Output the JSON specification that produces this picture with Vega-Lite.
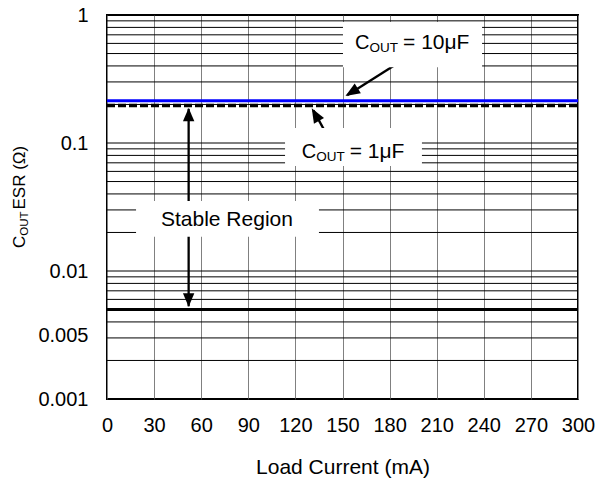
{
  "$schema": "https://vega.github.io/schema/vega-lite/v6.json",
  "width": 471,
  "height": 384,
  "autosize": {"type": "none"},
  "padding": {"left": 107, "top": 15, "right": 26, "bottom": 81},
  "background": "white",
  "config": {
    "view": {"stroke": "black", "strokeWidth": 2},
    "font": "Liberation Sans",
    "text": {"font": "Liberation Sans", "color": "black"}
  },
  "layer": [
    {
      "data": {"values": [
        {"esr": 1}, {"esr": 0.9}, {"esr": 0.8}, {"esr": 0.7}, {"esr": 0.6}, {"esr": 0.5}, {"esr": 0.4}, {"esr": 0.3}, {"esr": 0.2},
        {"esr": 0.1}, {"esr": 0.09}, {"esr": 0.08}, {"esr": 0.07}, {"esr": 0.06}, {"esr": 0.05}, {"esr": 0.04}, {"esr": 0.03}, {"esr": 0.02},
        {"esr": 0.01}, {"esr": 0.009}, {"esr": 0.008}, {"esr": 0.007}, {"esr": 0.006}, {"esr": 0.005}, {"esr": 0.004}, {"esr": 0.003}, {"esr": 0.002},
        {"esr": 0.001}
      ]},
      "mark": {"type": "rule", "color": "black", "strokeWidth": 1},
      "encoding": {
        "y": {
          "field": "esr", "type": "quantitative",
          "scale": {"type": "log", "domain": [0.001, 1]},
          "axis": {
            "title": null, "grid": false, "ticks": false, "domain": false,
            "values": [1, 0.1, 0.01, 0.00316, 0.001],
            "labelExpr": "datum.value > 0.002 && datum.value < 0.004 ? '0.005' : format(datum.value, '.3~f')",
            "labelFont": "Liberation Sans", "labelFontSize": 20, "labelColor": "black",
            "labelPadding": 19, "labelBaseline": "middle"
          }
        }
      }
    },
    {
      "data": {"values": [{"current": 0, "esr": 0.005}, {"current": 300, "esr": 0.005}]},
      "mark": {"type": "line", "color": "black", "strokeWidth": 3},
      "encoding": {
        "x": {
          "field": "current", "type": "quantitative",
          "scale": {"domain": [0, 300], "nice": false},
          "axis": {
            "title": "Load Current (mA)",
            "values": [0, 30, 60, 90, 120, 150, 180, 210, 240, 270, 300],
            "grid": true, "gridColor": "#808080", "gridWidth": 1, "gridOpacity": 1,
            "ticks": false, "domain": false,
            "labelFont": "Liberation Sans", "labelFontSize": 20, "labelColor": "black", "labelPadding": 16,
            "labelFlush": false,
            "titleFont": "Liberation Sans", "titleFontSize": 21, "titleFontWeight": "normal", "titleColor": "black", "titlePadding": 21
          }
        },
        "y": {"field": "esr", "type": "quantitative", "scale": {"type": "log", "domain": [0.001, 1]}}
      }
    },
    {
      "data": {"values": [{"current": 0, "esr": 0.196}, {"current": 300, "esr": 0.196}]},
      "mark": {"type": "line", "color": "black", "strokeWidth": 3.5, "strokeDash": [8, 3]},
      "encoding": {
        "x": {"field": "current", "type": "quantitative"},
        "y": {"field": "esr", "type": "quantitative", "scale": {"type": "log", "domain": [0.001, 1]}}
      }
    },
    {
      "data": {"values": [{"current": 0, "esr": 0.214}, {"current": 300, "esr": 0.214}]},
      "mark": {"type": "line", "color": "#0000ff", "strokeWidth": 3},
      "encoding": {
        "x": {"field": "current", "type": "quantitative"},
        "y": {"field": "esr", "type": "quantitative", "scale": {"type": "log", "domain": [0.001, 1]}}
      }
    },
    {
      "data": {"values": [
        {"current": 52, "esr": 0.185, "current2": 52, "esr2": 0.0053},
        {"current": 183.4, "esr": 0.407, "current2": 153, "esr2": 0.236},
        {"current": 139.5, "esr": 0.119, "current2": 131.5, "esr2": 0.18}
      ]},
      "mark": {"type": "rule", "color": "black", "strokeWidth": 2.3},
      "encoding": {
        "x": {"field": "current", "type": "quantitative"},
        "x2": {"field": "current2"},
        "y": {"field": "esr", "type": "quantitative", "scale": {"type": "log", "domain": [0.001, 1]}},
        "y2": {"field": "esr2"}
      }
    },
    {
      "data": {"values": [
        {"current": 150.3, "current2": 238.9, "esr": 0.88, "esr2": 0.39},
        {"current": 113.4, "current2": 200.6, "esr": 0.131, "esr2": 0.066},
        {"current": 18.5, "current2": 135, "esr": 0.0352, "esr2": 0.0185}
      ]},
      "mark": {"type": "rect", "color": "white", "opacity": 1},
      "encoding": {
        "x": {"field": "current", "type": "quantitative"},
        "x2": {"field": "current2"},
        "y": {"field": "esr", "type": "quantitative", "scale": {"type": "log", "domain": [0.001, 1]}},
        "y2": {"field": "esr2"}
      }
    },
    {
      "data": {"values": [{"current": 52, "esr": 0.188}]},
      "mark": {"type": "point", "shape": "M0,0L0.85,2L-0.85,2Z", "size": 180, "filled": true, "color": "black", "opacity": 1, "angle": 0},
      "encoding": {
        "x": {"field": "current", "type": "quantitative"},
        "y": {"field": "esr", "type": "quantitative", "scale": {"type": "log", "domain": [0.001, 1]}}
      }
    },
    {
      "data": {"values": [{"current": 52, "esr": 0.00526}]},
      "mark": {"type": "point", "shape": "M0,0L0.85,2L-0.85,2Z", "size": 180, "filled": true, "color": "black", "opacity": 1, "angle": 180},
      "encoding": {
        "x": {"field": "current", "type": "quantitative"},
        "y": {"field": "esr", "type": "quantitative", "scale": {"type": "log", "domain": [0.001, 1]}}
      }
    },
    {
      "data": {"values": [{"current": 151.9, "esr": 0.233}]},
      "mark": {"type": "point", "shape": "M0,0L0.8,2L-0.8,2Z", "size": 210, "filled": true, "color": "black", "opacity": 1, "angle": 238},
      "encoding": {
        "x": {"field": "current", "type": "quantitative"},
        "y": {"field": "esr", "type": "quantitative", "scale": {"type": "log", "domain": [0.001, 1]}}
      }
    },
    {
      "data": {"values": [{"current": 130.4, "esr": 0.1867}]},
      "mark": {"type": "point", "shape": "M0,0L0.8,2L-0.8,2Z", "size": 210, "filled": true, "color": "black", "opacity": 1, "angle": 330},
      "encoding": {
        "x": {"field": "current", "type": "quantitative"},
        "y": {"field": "esr", "type": "quantitative", "scale": {"type": "log", "domain": [0.001, 1]}}
      }
    },
    {
      "data": {"values": [
        {"current": 158, "esr": 0.604, "part": "C"},
        {"current": 124, "esr": 0.0855, "part": "C"}
      ]},
      "mark": {"type": "text", "align": "left", "baseline": "middle", "fontSize": 20, "color": "black"},
      "encoding": {
        "x": {"field": "current", "type": "quantitative"},
        "y": {"field": "esr", "type": "quantitative", "scale": {"type": "log", "domain": [0.001, 1]}},
        "text": {"field": "part"}
      }
    },
    {
      "data": {"values": [
        {"current": 158, "esr": 0.604, "part": "OUT"},
        {"current": 124, "esr": 0.0855, "part": "OUT"}
      ]},
      "mark": {"type": "text", "align": "left", "baseline": "middle", "fontSize": 13.5, "dx": 14.5, "dy": 5, "color": "black"},
      "encoding": {
        "x": {"field": "current", "type": "quantitative"},
        "y": {"field": "esr", "type": "quantitative", "scale": {"type": "log", "domain": [0.001, 1]}},
        "text": {"field": "part"}
      }
    },
    {
      "data": {"values": [
        {"current": 158, "esr": 0.604, "part": "= 10μF"},
        {"current": 124, "esr": 0.0855, "part": "= 1μF"}
      ]},
      "mark": {"type": "text", "align": "left", "baseline": "middle", "fontSize": 21, "dx": 48, "color": "black"},
      "encoding": {
        "x": {"field": "current", "type": "quantitative"},
        "y": {"field": "esr", "type": "quantitative", "scale": {"type": "log", "domain": [0.001, 1]}},
        "text": {"field": "part"}
      }
    },
    {
      "data": {"values": [{"current": 76.4, "esr": 0.025, "part": "Stable Region"}]},
      "mark": {"type": "text", "align": "center", "baseline": "middle", "fontSize": 21, "color": "black"},
      "encoding": {
        "x": {"field": "current", "type": "quantitative"},
        "y": {"field": "esr", "type": "quantitative", "scale": {"type": "log", "domain": [0.001, 1]}},
        "text": {"field": "part"}
      }
    },
    {
      "data": {"values": [{"current": -55.4, "esr": 0.01513, "part": "C"}]},
      "mark": {"type": "text", "align": "left", "baseline": "middle", "fontSize": 17, "angle": 270, "color": "black"},
      "encoding": {
        "x": {"field": "current", "type": "quantitative"},
        "y": {"field": "esr", "type": "quantitative", "scale": {"type": "log", "domain": [0.001, 1]}},
        "text": {"field": "part"}
      }
    },
    {
      "data": {"values": [{"current": -55.4, "esr": 0.01513, "part": "OUT"}]},
      "mark": {"type": "text", "align": "left", "baseline": "middle", "fontSize": 11.5, "angle": 270, "dx": 12.3, "dy": 4.5, "color": "black"},
      "encoding": {
        "x": {"field": "current", "type": "quantitative"},
        "y": {"field": "esr", "type": "quantitative", "scale": {"type": "log", "domain": [0.001, 1]}},
        "text": {"field": "part"}
      }
    },
    {
      "data": {"values": [{"current": -55.4, "esr": 0.01513, "part": "ESR (Ω)"}]},
      "mark": {"type": "text", "align": "left", "baseline": "middle", "fontSize": 17, "angle": 270, "dx": 38.5, "color": "black"},
      "encoding": {
        "x": {"field": "current", "type": "quantitative"},
        "y": {"field": "esr", "type": "quantitative", "scale": {"type": "log", "domain": [0.001, 1]}},
        "text": {"field": "part"}
      }
    }
  ]
}
